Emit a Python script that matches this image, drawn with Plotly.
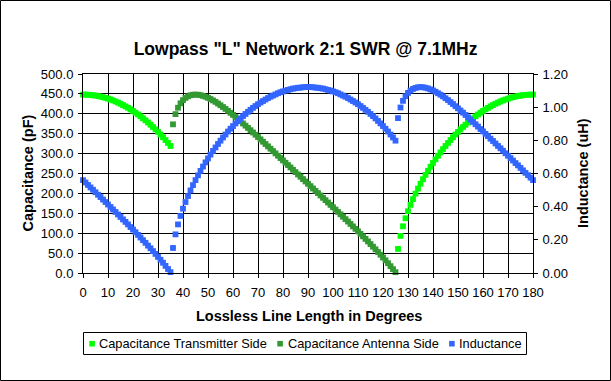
import plotly.graph_objects as go

# ---------------- data ----------------
degrees = list(range(0, 181))

# Capacitance, transmitter side (pF): 0..35 deg and 126..180 deg
tx_left_deg = list(range(0, 36))
tx_left_pf = [448.3, 448.2, 447.9, 447.4, 446.7, 445.8, 444.6, 443.3, 441.8, 440.0,
              438.1, 435.9, 433.6, 431.0, 428.2, 425.2, 422.0, 418.6, 415.0, 411.2,
              407.1, 402.8, 398.4, 393.7, 388.8, 383.6, 378.2, 372.6, 366.8, 360.8,
              354.4, 347.9, 341.1, 334.0, 326.7, 319.1]
tx_right_deg = list(range(126, 181))
tx_right_pf = [60.5, 93.3, 117.4, 137.5, 155.2, 171.1, 185.7, 199.3, 212.1, 224.2,
               235.6, 246.5, 256.9, 266.9, 276.5, 285.7, 294.5, 303.0, 311.2, 319.1,
               326.7, 334.0, 341.1, 347.9, 354.4, 360.8, 366.8, 372.6, 378.2, 383.6,
               388.8, 393.7, 398.4, 402.8, 407.1, 411.2, 415.0, 418.6, 422.0, 425.2,
               428.2, 431.0, 433.6, 435.9, 438.1, 440.0, 441.8, 443.3, 444.6, 445.8,
               446.7, 447.4, 447.9, 448.2, 448.3]

# Capacitance, antenna side (pF): 36..125 deg
ant_deg = list(range(36, 126))
ant_pf = [373.5, 399.2, 415.2, 426.3, 434.3, 440.0, 443.9, 446.5, 447.9, 448.3,
          447.9, 446.8, 445.1, 442.9, 440.2, 437.1, 433.6, 429.9, 425.8, 421.5,
          417.0, 412.3, 407.4, 402.4, 397.3, 392.0, 386.7, 381.3, 375.7, 370.2,
          364.5, 358.8, 353.1, 347.4, 341.6, 335.8, 329.9, 324.1, 318.2, 312.3,
          306.5, 300.6, 294.7, 288.8, 282.9, 277.0, 271.2, 265.3, 259.4, 253.5,
          247.6, 241.8, 235.9, 230.0, 224.2, 218.3, 212.4, 206.5, 200.7, 194.8,
          188.9, 183.0, 177.1, 171.2, 165.3, 159.3, 153.4, 147.4, 141.4, 135.3,
          129.3, 123.2, 117.0, 110.9, 104.6, 98.4, 92.1, 85.7, 79.3, 72.7,
          66.2, 59.5, 52.7, 45.9, 38.9, 31.8, 24.6, 17.2, 9.7, 2.0]

# Inductance (uH): 0..180 deg
inductance_uh = [
    0.560, 0.546, 0.531, 0.516, 0.502, 0.487, 0.472, 0.458, 0.443, 0.428,
    0.413, 0.398, 0.383, 0.368, 0.353, 0.338, 0.323, 0.308, 0.293, 0.277,
    0.262, 0.246, 0.230, 0.214, 0.198, 0.182, 0.165, 0.149, 0.132, 0.115,
    0.097, 0.080, 0.062, 0.043, 0.024, 0.005,
    0.151, 0.233, 0.293, 0.344, 0.388, 0.428, 0.464, 0.498, 0.530, 0.560,
    0.589, 0.616, 0.642, 0.667, 0.691, 0.714, 0.736, 0.757, 0.778, 0.798,
    0.817, 0.835, 0.853, 0.870, 0.886, 0.902, 0.917, 0.932, 0.946, 0.959,
    0.972, 0.984, 0.996, 1.007, 1.018, 1.028, 1.037, 1.046, 1.055, 1.063,
    1.070, 1.077, 1.084, 1.090, 1.095, 1.100, 1.104, 1.108, 1.112, 1.114,
    1.117, 1.118, 1.120, 1.121, 1.121,
    1.121, 1.120, 1.118, 1.117, 1.114, 1.112, 1.108, 1.104, 1.100, 1.095,
    1.090, 1.084, 1.077, 1.070, 1.063, 1.055, 1.046, 1.037, 1.028, 1.018,
    1.007, 0.996, 0.984, 0.972, 0.959, 0.946, 0.932, 0.917, 0.902, 0.886,
    0.870, 0.853, 0.835, 0.817, 0.798,
    0.934, 0.998, 1.038, 1.066, 1.086, 1.100, 1.110, 1.116, 1.120, 1.121,
    1.120, 1.117, 1.113, 1.107, 1.101, 1.093, 1.084, 1.075, 1.065, 1.054,
    1.043, 1.031, 1.019, 1.006, 0.993, 0.980, 0.967, 0.953, 0.939, 0.925,
    0.911, 0.897, 0.883, 0.868, 0.854, 0.839, 0.825, 0.810, 0.796, 0.781,
    0.766, 0.752, 0.737, 0.722, 0.707, 0.693, 0.678, 0.663, 0.649, 0.634,
    0.619, 0.604, 0.590, 0.575, 0.560]

series_names = ["Capacitance Transmitter Side", "Capacitance Antenna Side", "Inductance"]
series_colors = ["#00FF00", "#339933", "#3366FF"]

title_text = 'Lowpass "L" Network 2:1 SWR @ 7.1MHz'
x_title = "Lossless Line Length in Degrees"
y_title = "Capacitance (pF)"
y2_title = "Inductance (uH)"

# ---------------- layout geometry ----------------
W, H = 611, 381
ML, MR, MT, MB = 83, 78, 74, 108
PW, PH = W - ML - MR, H - MT - MB
FONT = "Liberation Sans, Arial, sans-serif"


def xp(px):
    return (px - ML) / PW


def yp(py):
    return (H - MB - py) / PH


MSIZE = 5.8
fig = go.Figure()
fig.add_trace(go.Scatter(
    x=tx_left_deg + tx_right_deg, y=tx_left_pf + tx_right_pf,
    name=series_names[0], mode="markers", cliponaxis=False,
    marker=dict(symbol="square", size=MSIZE, color=series_colors[0])))
fig.add_trace(go.Scatter(
    x=ant_deg, y=ant_pf, name=series_names[1], mode="markers", cliponaxis=False,
    marker=dict(symbol="square", size=MSIZE, color=series_colors[1])))
fig.add_trace(go.Scatter(
    x=degrees, y=inductance_uh, name=series_names[2], mode="markers", yaxis="y2",
    cliponaxis=False,
    marker=dict(symbol="square", size=MSIZE, color=series_colors[2])))

tickfont = dict(family=FONT, size=13, color="black")
axis_common = dict(showgrid=True, gridcolor="#000000", gridwidth=1, zeroline=False,
                   showline=True, linecolor="#000000", linewidth=1,
                   ticks="outside", ticklen=4, tickwidth=1, tickcolor="#000000",
                   tickfont=tickfont)

fig.update_layout(
    template="none",
    width=W, height=H,
    margin=dict(l=ML, r=MR, t=MT, b=MB, pad=0),
    paper_bgcolor="white", plot_bgcolor="rgba(0,0,0,0)",
    showlegend=False,
    title=dict(text=title_text, x=305.6 / W, xref="container", xanchor="center",
               y=1 - 49 / H, yref="container", yanchor="middle",
               font=dict(family=FONT, size=17.5, color="black", weight="bold")),
    xaxis=dict(range=[0, 180], tick0=0, dtick=10, mirror=True,
               ticklabelstandoff=3, **axis_common),
    yaxis=dict(range=[0, 500], tick0=0, dtick=50, tickformat=".1f",
               ticklabelstandoff=2, **axis_common),
    yaxis2=dict(range=[0, 1.2], tick0=0, dtick=0.2, tickformat=".2f",
                overlaying="y", side="right", anchor="x",
                showgrid=False, zeroline=False, showline=True, linecolor="#000000",
                linewidth=1, ticks="outside", ticklen=4, tickcolor="#000000",
                ticklabelstandoff=2, tickfont=tickfont),
)

title_font = dict(family=FONT, size=14.5, color="black", weight="bold")
annotations = [
    dict(text=x_title, x=xp(308.5), y=yp(316), xref="paper", yref="paper",
         xanchor="center", yanchor="middle", showarrow=False, font=title_font),
    dict(text=y_title, x=xp(27), y=yp(173.5), xref="paper", yref="paper",
         xanchor="center", yanchor="middle", showarrow=False, textangle=-90,
         font=title_font),
    dict(text=y2_title, x=xp(582.5), y=yp(173.5), xref="paper", yref="paper",
         xanchor="center", yanchor="middle", showarrow=False, textangle=-90,
         font=title_font),
]

shapes = [
    # outer chart border
    dict(type="rect", xref="paper", yref="paper", x0=xp(0.5), x1=xp(W - 0.5),
         y0=yp(H - 0.5), y1=yp(0.5), line=dict(color="black", width=1),
         layer="below"),
    # legend box
    dict(type="rect", xref="paper", yref="paper", x0=xp(83.5), x1=xp(526.5),
         y0=yp(354.5), y1=yp(332.5), line=dict(color="black", width=1),
         layer="below"),
]

legend_marker_x = [89.3, 277.3, 449.1]
legend_text_x = [99.3, 287.7, 458.9]
legend_y = 343.7
legend_font = dict(family=FONT, size=12.8, color="black")
for name, color, mx, tx in zip(series_names, series_colors, legend_marker_x, legend_text_x):
    shapes.append(dict(type="rect", xref="paper", yref="paper",
                       x0=xp(mx), x1=xp(mx + 5.6), y0=yp(legend_y + 2.8), y1=yp(legend_y - 2.8),
                       line=dict(width=0), fillcolor=color, layer="above"))
    annotations.append(dict(text=name, x=xp(tx), y=yp(legend_y), xref="paper", yref="paper",
                            xanchor="left", yanchor="middle", showarrow=False,
                            borderpad=0, borderwidth=0, font=legend_font))

fig.update_layout(annotations=annotations, shapes=shapes)
fig.write_html("out.html",
               config={"displayModeBar": False},
               post_script="document.body.style.margin='0px';document.body.style.overflow='hidden';")
